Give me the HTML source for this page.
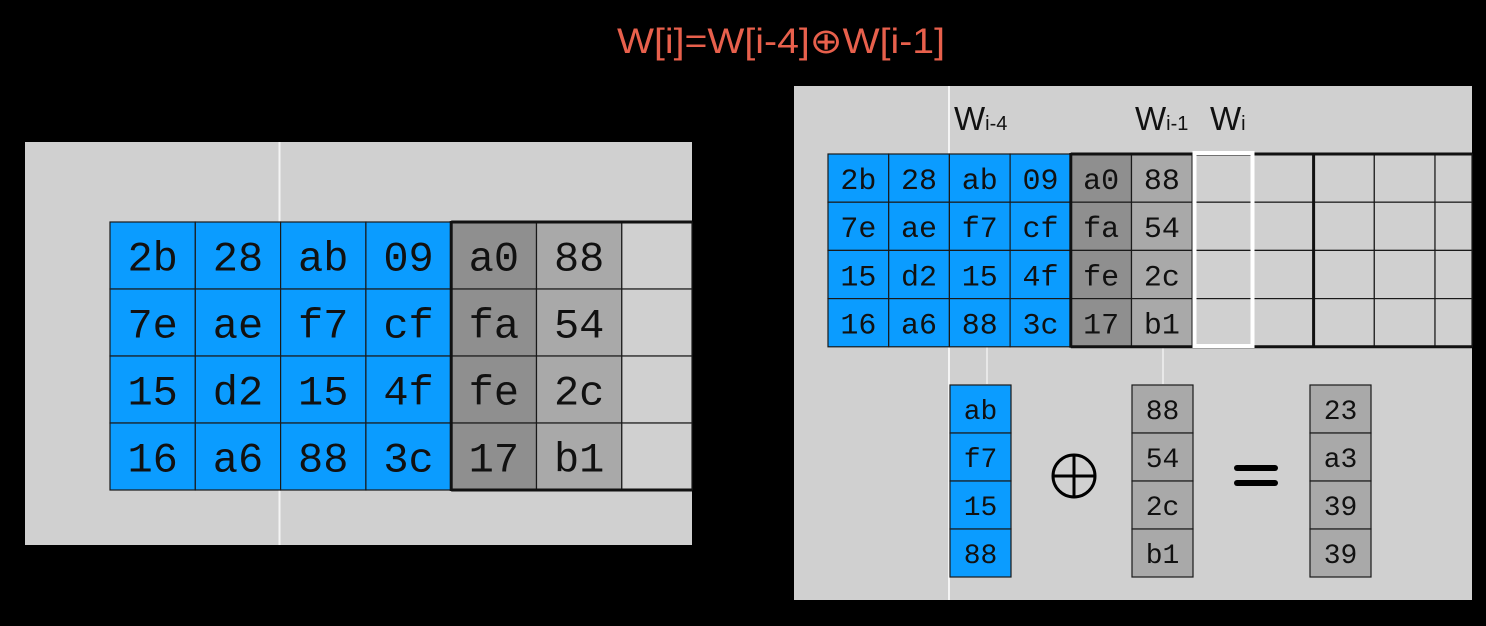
<!DOCTYPE html>
<html><head><meta charset="utf-8"><style>
html,body{margin:0;padding:0;background:#000;width:1486px;height:626px;overflow:hidden}
svg{display:block}
</style></head><body>
<svg id="s" width="1486" height="626" xmlns="http://www.w3.org/2000/svg">
<text x="781" y="53" text-anchor="middle" font-family="Liberation Sans, DejaVu Sans, sans-serif" font-size="35" fill="#e8604c" textLength="328" lengthAdjust="spacingAndGlyphs">W[i]=W[i-4]⊕W[i-1]</text>
<rect x="25" y="142" width="667" height="403" fill="#d0d0d0"/>
<line x1="279.5" y1="142" x2="279.5" y2="545" stroke="#f4f4f4" stroke-width="2"/>
<g id="L"></g>
<rect x="794" y="86" width="678" height="514" fill="#d0d0d0"/>
<line x1="949" y1="86" x2="949" y2="600" stroke="#f4f4f4" stroke-width="2"/>
<line x1="987" y1="347" x2="987" y2="384" stroke="#f0f0f0" stroke-width="1.5"/>
<line x1="1163" y1="347" x2="1163" y2="384" stroke="#f0f0f0" stroke-width="1.5"/>
<g id="R"></g>
<g font-family="Liberation Sans, DejaVu Sans, sans-serif" fill="#111">
<text x="954" y="130" font-size="33">W<tspan font-size="20">i-4</tspan></text>
<text x="1135" y="130" font-size="33">W<tspan font-size="20">i-1</tspan></text>
<text x="1210" y="130" font-size="33">W<tspan font-size="20">i</tspan></text>
</g>
<g id="B"></g>
<g stroke="#000" stroke-width="3" fill="none">
<circle cx="1074" cy="476" r="21"/><line x1="1053" y1="476" x2="1095" y2="476"/><line x1="1074" y1="455" x2="1074" y2="497"/>
</g>
<g stroke="#000" stroke-width="6" stroke-linecap="round">
<line x1="1237" y1="468" x2="1275" y2="468"/><line x1="1237" y1="483" x2="1275" y2="483"/>
</g>
</svg>
<script>
const blueCols=[["2b","7e","15","16"],["28","ae","d2","a6"],["ab","f7","15","88"],["09","cf","4f","3c"]];
const grayCols=[["a0","fa","fe","17"],["88","54","2c","b1"]];
const wi4=["ab","f7","15","88"];
const wi1=["88","54","2c","b1"];
const wi=["23","a3","39","39"];
const NS="http://www.w3.org/2000/svg";
function mk(p,tag,a){const e=document.createElementNS(NS,tag);for(const k in a)e.setAttribute(k,a[k]);p.appendChild(e);return e;}
function cell(p,x,y,w,h,fill,txt,fs,name){
 const r=mk(p,'rect',{x:x,y:y,width:w,height:h,fill:fill,stroke:'#1a1a1a','stroke-width':1.2});
 
 
 if(txt!==null){const t=mk(p,'text',{x:x+w/2,y:y+h/2+fs*0.36,'text-anchor':'middle','font-family':'Liberation Mono, DejaVu Sans Mono, monospace','font-size':fs,fill:'#111'});t.textContent=txt;
 
 }
}
function grid(g,x0,y0,cw,ch,fs,totalCols,xmax,thick){
 const cols=blueCols.concat(grayCols);
 for(let c=0;c<totalCols;c++){
  const x=x0+c*cw; const w=Math.min(cw,xmax-x); if(w<=0)break;
  for(let r=0;r<4;r++){
   let fill='#d0d0d0',txt=null;
   if(c<4){fill='#0b9cff';txt=cols[c][r];}
   else if(c<6){fill=c==4?'#8f8f8f':'#a9a9a9';txt=cols[c][r];}
   cell(g,x,y0+r*ch,w,ch,fill,txt,fs,'cell-c'+c+'-r'+r);
  }
 }
 thick.forEach(c=>{const x=x0+c*cw;const l=mk(g,'line',{x1:x,y1:y0-1,x2:x,y2:y0+4*ch+1,stroke:'#111','stroke-width':3});
  
  });
 const gx=x0+4*cw;
 const t=mk(g,'line',{x1:gx,y1:y0,x2:xmax,y2:y0,stroke:'#111','stroke-width':3});
 
 
 const b=mk(g,'line',{x1:gx,y1:y0+4*ch,x2:xmax,y2:y0+4*ch,stroke:'#111','stroke-width':3});
 
 
}
grid(document.getElementById('L'),110,222,85.3,67,42,7,692,[4]);
const R=document.getElementById('R');
grid(R,828,154,60.7,48.2,30,11,1472,[4,8]);
const hl=mk(R,'rect',{x:1194.5,y:153,width:58,height:193,fill:'none',stroke:'#fff','stroke-width':4});


const B=document.getElementById('B');
function col(x,vals,fill,n){vals.forEach((v,i)=>cell(B,x,385+i*48,61,48,fill,v,28,n+'-'+i));}
col(950,wi4,'#0b9cff','wi4-cell');
col(1132,wi1,'#a9a9a9','wi1-cell');
col(1310,wi,'#a9a9a9','wi-cell');
</script>
</body></html>
